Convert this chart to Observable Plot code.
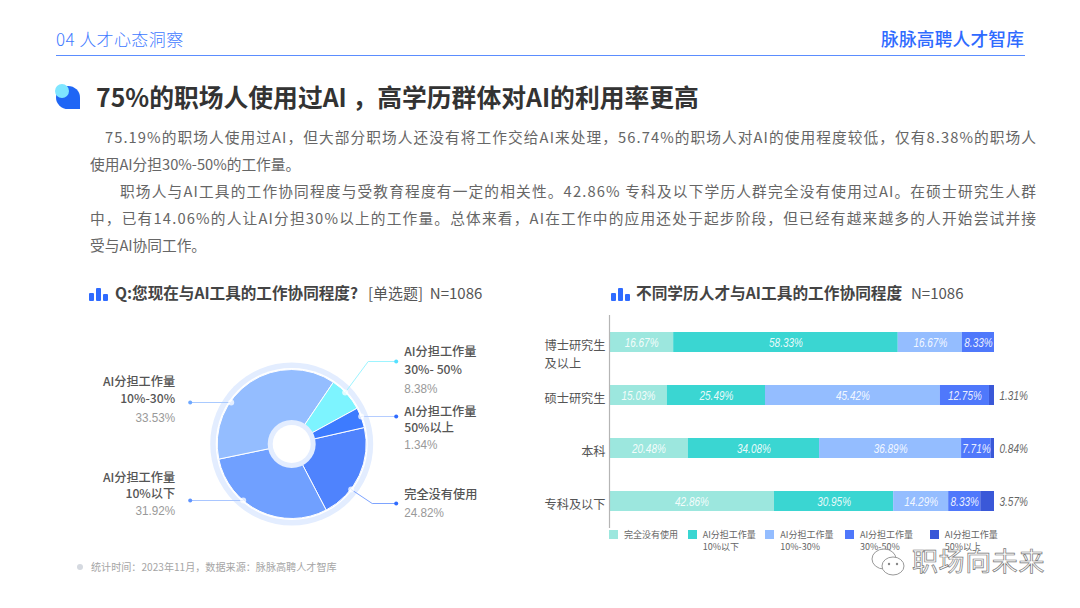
<!DOCTYPE html>
<html><head><meta charset="utf-8">
<script src="https://cdn.jsdelivr.net/npm/d3@7"></script>
<script src="https://cdn.jsdelivr.net/npm/@observablehq/plot@0.6"></script>
<style>
html,body{margin:0;padding:0;background:#fff;width:1080px;height:608px;overflow:hidden}
body{position:relative;font-family:"Noto Sans CJK SC","Noto Sans",sans-serif;color:#444}
.t{position:absolute;white-space:pre;line-height:1}
.body{font-size:14.7px;color:#666;height:27px;line-height:27px}
.bars{position:absolute;display:flex;align-items:flex-end;gap:2px}
.bars i{display:block;width:5px;background:#2f6bff;border-radius:1px}
.sw{position:absolute;width:9px;height:9px}
.lg{position:absolute;font-size:9px;line-height:12px;color:#666;white-space:pre}
</style></head><body>
<div id="page"></div>
<script>
// ---- text ----
const headerLeft = "04 人才心态洞察";
const headerRight = "脉脉高聘人才智库";
const pageTitle = "75%的职场人使用过AI ，高学历群体对AI的利用率更高";
const bodyLines = [
 "75.19%的职场人使用过AI，但大部分职场人还没有将工作交给AI来处理，56.74%的职场人对AI的使用程度较低，仅有8.38%的职场人",
 "使用AI分担30%-50%的工作量。",
 "职场人与AI工具的工作协同程度与受教育程度有一定的相关性。42.86% 专科及以下学历人群完全没有使用过AI。在硕士研究生人群",
 "中，已有14.06%的人让AI分担30%以上的工作量。总体来看，AI在工作中的应用还处于起步阶段，但已经有越来越多的人开始尝试并接",
 "受与AI协同工作。"
];
const leftTitle = "Q:您现在与AI工具的工作协同程度?", leftNote = "[单选题]  N=1086";
const rightTitle = "不同学历人才与AI工具的工作协同程度", rightNote = "N=1086";
const footnote = "统计时间：2023年11月，数据来源：脉脉高聘人才智库";
const watermark = "职场向未来";

// ---- pie data ----
const sliceNames = ["完全没有使用","AI分担工作量\n10%以下","AI分担工作量\n10%-30%","AI分担工作量\n30%- 50%","AI分担工作量\n50%以上"];
const sliceLabels = ["24.82%","31.92%","33.53%","8.38%","1.34%"];
const sliceDrawn = [20.9,29.4,37.7,7.6,4.4];   // share of the circle as drawn in the picture
const sliceColors = ["#4f83fd","#70a0ff","#94bdff","#7df4ff","#3d7bff"];
const leaderColors = ["#7ea4ff","#a9c6ff","#a9caff","#9df4ff","#b5cdff"];
const endColors = ["#2f6bff","#5f94ff","#6ea8ff","#55e0ff","#2f6bff"];

// ---- bar data ----
const levels = ["博士研究生\n及以上\u3000\u3000","硕士研究生","本科","专科及以下"];
const seriesNames = ["完全没有使用","AI分担工作量\n10%以下","AI分担工作量\n10%-30%","AI分担工作量\n30%-50%","AI分担工作量\n50%以上"];
const seriesColors = ["#9ce7de","#3ad6d2","#94bdff","#4f78fb","#3a58d8"];
const none   = [16.67,15.03,20.48,42.86];
const under10= [58.33,25.49,34.08,30.95];
const to30   = [16.67,45.42,36.89,14.29];
const to50   = [8.33,12.75,7.71,8.33];
const over50 = [0,1.31,0.84,3.57];

const page = document.getElementById("page");
function el(cls, style, text){const d=document.createElement("div");d.className=cls;d.style.cssText=style;if(text!=null)d.textContent=text;page.appendChild(d);return d;}
function fit(d,w){const n=d.textContent.length;const nat=d.getBoundingClientRect().width;d.style.letterSpacing=((w-nat)/(n-1))+"px";}

// header
el("t","left:56px;top:30px;font-size:17px;color:#3f7bff;font-weight:300;letter-spacing:.4px",headerLeft);
el("t","left:881px;top:30px;font-size:17.7px;color:#2f6bff;font-weight:500;letter-spacing:.2px",headerRight);
el("t","left:56px;top:54.5px;width:969px;height:1.5px;background:#5b8dff");
// title bullet
el("t","left:56px;top:86px;width:24px;height:23px;background:#1f66f5;border-radius:50% 50% 0 50%");
el("t","left:55px;top:84px;width:14px;height:14px;background:#7fe6ff;border-radius:50%");
el("t","left:96px;top:84px;font-size:24.8px;font-weight:700;color:#333",pageTitle);
// body
fit(el("t body","left:105px;top:123px",bodyLines[0]),931);
el("t body","left:90px;top:150px",bodyLines[1]);
fit(el("t body","left:120px;top:177px",bodyLines[2]),916);
fit(el("t body","left:90px;top:204px",bodyLines[3]),946);
el("t body","left:90px;top:231px",bodyLines[4]);
// sub headings
function barsIcon(x){const b=el("bars",`left:${x}px;top:287px;height:14px`);[8,13,7].forEach(h=>{const i=document.createElement("i");i.style.height=h+"px";b.appendChild(i);});}
barsIcon(89);barsIcon(611);
el("t",'left:115px;top:285px;font-size:15.6px;font-weight:700;color:#444',leftTitle);
el("t",'left:368px;top:285px;font-size:15px;color:#555',leftNote);
el("t",'left:636px;top:285px;font-size:15.7px;font-weight:700;color:#444',rightTitle);
el("t",'left:911px;top:285px;font-size:15px;color:#555',rightNote);
// footnote
el("t","left:77px;top:564px;width:6px;height:6px;border-radius:50%;background:#d5d9e0");
el("t","left:91px;top:562px;font-size:10.1px;color:#a5a5a5",footnote);

// ---- pie ----
const R = 74.5, Ring = 81.5, HoleOuter = 24, Hole = 19, pieStart = 77.2;
const pieRows = d3.pie().sort(null).value(d=>d).startAngle(pieStart*Math.PI/180).endAngle((pieStart+360)*Math.PI/180)(sliceDrawn);
// callout layout
const callouts = [
 {dot:[59,45],  via:[80,59], end:[104,59], lx:112, ly:[51], py:68, anchor:"start"},
 {dot:[-49,56], via:null, end:[-102,56], lx:-117, ly:[34,50], py:66, anchor:"end"},
 {dot:[-61,-42],via:null, end:[-102,-42], lx:-117, ly:[-62,-45], py:-27, anchor:"end"},
 {dot:[53,-52], via:[76,-83], end:[104,-83], lx:112, ly:[-92,-74], py:-56, anchor:"start"},
 {dot:[69,-28], via:null, end:[104,-28], lx:112, ly:[-32,-16], py:0, anchor:"start"}
];
const leaderPts = callouts.flatMap((c,i)=>[c.dot,c.via,c.end].filter(Boolean).map(p=>({i,x:p[0],y:p[1]})));
const nameRows = callouts.flatMap((c,i)=>sliceNames[i].split("\n").map((s,k)=>({s,x:c.lx,y:c.ly[k],a:c.anchor})));
const pctRows = callouts.map((c,i)=>({s:sliceLabels[i],x:c.lx,y:c.py,a:c.anchor}));
const cjk = '"Noto Sans CJK SC"';
const narrow = '"Liberation Sans"';

function pieMark(index, scales){
  const cx=scales.x(0), cy=scales.y(0);
  const g=d3.create("svg:g").attr("transform",`translate(${cx},${cy})`);
  const unit=scales.x(1)-scales.x(0);
  g.append("circle").attr("r",Ring*unit).attr("fill","#e3edff");
  g.append("circle").attr("r",(R+1.5)*unit).attr("fill","#fff");
  const arc=d3.arc().innerRadius(0).outerRadius(R*unit);
  pieRows.forEach((p,i)=>g.append("path").attr("d",arc(p)).attr("fill",sliceColors[i]).attr("stroke","#fff").attr("stroke-width",1));
  g.append("circle").attr("r",HoleOuter*unit).attr("fill","#e3edff");
  g.append("circle").attr("r",Hole*unit).attr("fill","#fff");
  return g.node();
}
const textMarks = (anchor)=>[
  Plot.text(nameRows.filter(d=>d.a===anchor),{x:"x",y:"y",text:"s",textAnchor:anchor,fontSize:12.2,fontWeight:500,fill:"#555",fontFamily:cjk}),
  Plot.text(pctRows.filter(d=>d.a===anchor),{x:"x",y:"y",text:"s",textAnchor:anchor,fontSize:13,fill:"#999",fontFamily:narrow,className:"squeeze90"})
];
const piePlot = Plot.plot({
  width:440,height:200,margin:0,
  style:{background:"transparent",overflow:"visible"},
  x:{domain:[-231.7,208.3],range:[0,440],axis:null},
  y:{domain:[-114,86],range:[0,200],axis:null},
  marks:[
    pieMark,
    ...callouts.map((c,i)=>Plot.line(leaderPts.filter(d=>d.i===i),{x:"x",y:"y",stroke:leaderColors[i],strokeWidth:1,curve:"linear"})),
    Plot.dot(callouts,{x:d=>d.dot[0],y:d=>d.dot[1],r:3,fill:"#fff",fillOpacity:.75}),
    Plot.dot(callouts,{x:d=>d.end[0],y:d=>d.end[1],r:2,fill:(d,i)=>endColors[i]}),
    ...textMarks("start"),
    ...textMarks("end")
  ]
});
piePlot.style.cssText+=";position:absolute;left:60px;top:330px";
page.appendChild(piePlot);

// ---- stacked bars ----
const rows = [];
[none,under10,to30,to50,over50].forEach((vals,s)=>vals.forEach((v,i)=>{ if(v>0) rows.push({level:levels[i],series:seriesNames[s],value:v}); }));
const totals = new Map(levels.map(l=>[l,0]));
rows.forEach(r=>{r.start=totals.get(r.level);totals.set(r.level,r.start+r.value);r.mid=r.start+r.value/2;});
const isInside = r=>!(r.series===seriesNames[4]);
const W = 540, ml = 79, H = 213;
const barPlot = Plot.plot({
  width:W,height:H,marginLeft:ml,marginRight:W-ml-385,marginTop:0,marginBottom:0,
  style:{background:"transparent",overflow:"visible"},
  x:{domain:[0,100],axis:null},
  y:{domain:levels,axis:null,paddingInner:.625,paddingOuter:.3125},
  color:{domain:seriesNames,range:seriesColors},
  marks:[
    Plot.barX(rows,{x1:"start",x2:d=>d.start+d.value,y:"level",fill:"series",inset:0}),
    Plot.ruleX([0],{stroke:"#b5b5b5",strokeWidth:1.2}),
    Plot.text(rows.filter(isInside),{x:"mid",y:"level",text:d=>d.value.toFixed(2)+"%",fill:"#fff",fontStyle:"italic",fontSize:13.5,fontFamily:narrow,fillOpacity:.9,className:"squeeze"}),
    Plot.text(rows.filter(r=>!isInside(r)),{x:100,y:"level",text:d=>d.value.toFixed(2)+"%",textAnchor:"start",dx:5,fill:"#666",fontStyle:"italic",fontSize:13.5,fontFamily:narrow,className:"squeeze"}),
    Plot.text(levels,{x:()=>0,y:d=>d,text:d=>d,textAnchor:"end",lineAnchor:"top",dx:-4,dy:-5,lineHeight:1.45,fontSize:12.2,fill:"#555",fontFamily:cjk})
  ]
});
barPlot.style.cssText+=";position:absolute;left:530px;top:315px";
page.appendChild(barPlot);

// condense the percentage labels, which use a narrow face in the picture
function squeeze(sel,k){document.querySelectorAll(sel+" text").forEach(t=>{const w=t.getComputedTextLength();t.setAttribute("textLength",w*k);t.setAttribute("lengthAdjust","spacingAndGlyphs");});}
squeeze(".squeeze",.74);
squeeze(".squeeze90",.9);

// legend
const legendX=[609,687.7,765.3,845,929.7];
seriesNames.forEach((n,i)=>{
  el("sw",`left:${legendX[i]}px;top:530px;background:${seriesColors[i]}`);
  el("lg",`left:${legendX[i]+15}px;top:529px`,n);
});

// watermark
el("t","left:912px;top:547px;font-size:26px;color:#fff;-webkit-text-stroke:.7px #777;letter-spacing:.6px",watermark);
const logo=document.createElementNS("http://www.w3.org/2000/svg","svg");
logo.setAttribute("width","44");logo.setAttribute("height","34");
logo.style.cssText="position:absolute;left:864px;top:546px";
logo.innerHTML='<ellipse cx="20" cy="13" rx="12" ry="10" fill="#fff" stroke="#999"/><ellipse cx="29" cy="20" rx="11" ry="9" fill="#fff" stroke="#999"/><circle cx="25" cy="18" r="1.2" fill="#888"/><circle cx="33" cy="18" r="1.2" fill="#888"/>';
page.appendChild(logo);
</script>
</body></html>
